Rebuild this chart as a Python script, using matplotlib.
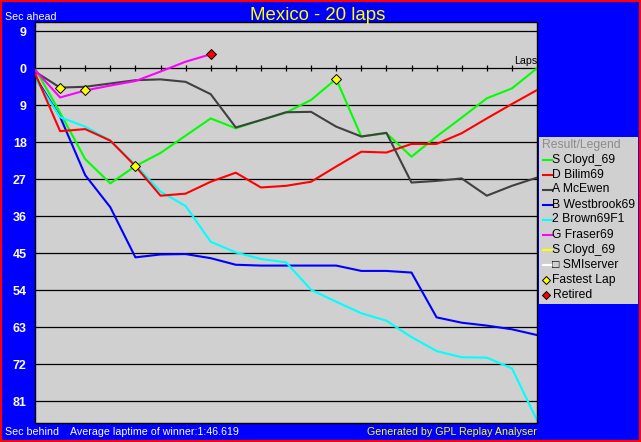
import numpy as np
import matplotlib
matplotlib.use("Agg")
import matplotlib.pyplot as plt
from matplotlib.patches import Rectangle

plt.rcParams['font.family'] = ['Liberation Sans', 'DejaVu Sans']

# Data (seconds behind the winner's average pace, negative = ahead)
laps = list(range(0, 21))
cloyd = [0, 10.8, 22.1, 28.0, 23.8, 20.6, 16.4, 12.2, 14.6, 12.6, 10.8, 7.7,
         2.6, 16.6, 15.8, 21.5, 16.6, 12.0, 7.3, 4.9, 0]
bilim = [1.2, 15.3, 14.8, 17.6, 23.8, 31.0, 30.5, 27.6, 25.4, 29.0, 28.6, 27.6,
         23.9, 20.3, 20.5, 18.4, 18.4, 15.8, 12.2, 8.7, 5.3]
mcewen = [0.8, 4.7, 4.5, 3.7, 2.9, 2.7, 3.3, 6.3, 14.4, 12.6, 10.7, 10.6,
          14.2, 16.6, 15.7, 27.8, 27.4, 26.8, 31.0, 28.6, 26.6]
westbrook = [2.0, 11.8, 26.0, 33.8, 46.0, 45.3, 45.2, 46.2, 47.8, 48.0, 48.0, 48.0,
             48.0, 49.3, 49.3, 49.7, 60.6, 61.9, 62.6, 63.5, 64.9]
brown = [2.5, 11.9, 14.2, 17.6, 23.5, 30.0, 33.5, 42.2, 44.8, 46.4, 47.2, 53.9,
         56.8, 59.6, 61.4, 65.4, 68.8, 70.3, 70.4, 73.0, 85.6]
fraser_laps = [0, 1, 2, 3, 4, 5, 6, 7]
fraser = [0.4, 7.1, 5.4, 4.2, 3.1, 0.8, -1.6, -3.4]

fast_laps = [1, 2, 4, 12]
fast_secs = [4.7, 5.4, 23.8, 2.6]
retired_laps = [7]
retired_secs = [-3.4]

yticks = [-9, 0, 9, 18, 27, 36, 45, 54, 63, 72, 81]

legend_names = ["S Cloyd_69", "D Bilim69", "A McEwen", "B Westbrook69",
                "2 Brown69F1", "G Fraser69", "S Cloyd_69", "\u25a1 SMIserver"]
legend_colors = ["#00ff00", "#ff0000", "#404040", "#0000ff",
                 "#00ffff", "#ff00ff", "#ffff00", "#ffffff"]

W, H = 641, 442
fig = plt.figure(figsize=(W / 100, H / 100), dpi=100, facecolor="#0000ff")

# red frame around the window
fig.patches.append(Rectangle((0, 0), 1, 1, transform=fig.transFigure,
                             fill=False, edgecolor="#ff0000", linewidth=3))

ax = fig.add_axes([35 / W, 1 - 423 / H, 502 / W, 401 / H], facecolor="#d0d0d0")
ax.set_xlim(0, 20)
ax.set_ylim(86.3, -11.26)

for y in yticks:
    ax.axhline(y, color="black", lw=0.9, zorder=1)

# lap ticks on the zero line
ax.plot(laps[1:-1], [0] * 19, "|", color="black", ms=4, mew=0.9, zorder=1)

ax.plot(laps, cloyd, color=legend_colors[0], lw=1.5, zorder=2)
ax.plot(laps, westbrook, color=legend_colors[3], lw=1.5, zorder=2)
ax.plot(laps, brown, color=legend_colors[4], lw=1.5, zorder=2)
ax.plot(laps, bilim, color=legend_colors[1], lw=1.5, zorder=3)
ax.plot(laps, mcewen, color=legend_colors[2], lw=1.5, zorder=3)
ax.plot(fraser_laps, fraser, color=legend_colors[5], lw=1.5, zorder=3)

ax.plot(fast_laps, fast_secs, "D", color="#ffff00", mec="black", mew=0.7, ms=5, zorder=5)
ax.plot(retired_laps, retired_secs, "D", color="#ff0000", mec="black", mew=0.7, ms=5, zorder=5)

ax.set_yticks(yticks)
ax.set_yticklabels([str(abs(v)) for v in yticks], color="white",
                   fontweight="bold", fontsize=9)
ax.tick_params(axis="y", length=0, pad=6)
ax.set_xticks([])
for s in ax.spines.values():
    s.set_color("black")
    s.set_linewidth(1)

ax.text(20, -0.6, "Laps", ha="right", va="bottom", fontsize=7.7, color="black")

# texts around the chart
fig.text(318 / W, 1 - 20 / H, "Mexico - 20 laps", color="#ffff00",
         fontsize=13.4, ha="center", va="baseline")
fig.text(5 / W, 1 - 19.5 / H, "Sec ahead", color="white", fontsize=7.7, va="baseline")
fig.text(5 / W, 1 - 435 / H, "Sec behind", color="white", fontsize=7.7, va="baseline")
fig.text(70 / W, 1 - 435 / H, "Average laptime of winner:1:46.619", color="white",
         fontsize=7.7, va="baseline")
fig.text(537 / W, 1 - 435 / H, "Generated by GPL Replay Analyser", color="#ffff00",
         fontsize=7.7, va="baseline", ha="right")

# legend box
lg = fig.add_axes([539 / W, 1 - 304 / H, 99 / W, 167 / H], facecolor="#d0d0d0")
lg.set_xlim(0, 99)
lg.set_ylim(167, 0)
lg.set_xticks([])
lg.set_yticks([])
for s in lg.spines.values():
    s.set_visible(False)
lg.text(3, 8, "Result/Legend", color="#8c8c8c", fontsize=8.7, va="center")
for i, (name, col) in enumerate(zip(legend_names, legend_colors)):
    y = 22.5 + 15 * i
    lg.plot([3.5, 13], [y, y], color=col, lw=1.5)
    lg.text(13.5, y, name, color="black", fontsize=8.7, va="center")
y = 22.5 + 15 * len(legend_names)
lg.plot([6.5], [y], "D", color="#ffff00", mec="black", mew=0.7, ms=4.5)
lg.text(13.5, y, "Fastest Lap", color="black", fontsize=8.7, va="center")
y += 15
lg.plot([6.5], [y], "D", color="#ff0000", mec="black", mew=0.7, ms=4.5)
lg.text(13.5, y, "Retired", color="black", fontsize=8.7, va="center")

fig.savefig("out.png", dpi=100, facecolor=fig.get_facecolor())
